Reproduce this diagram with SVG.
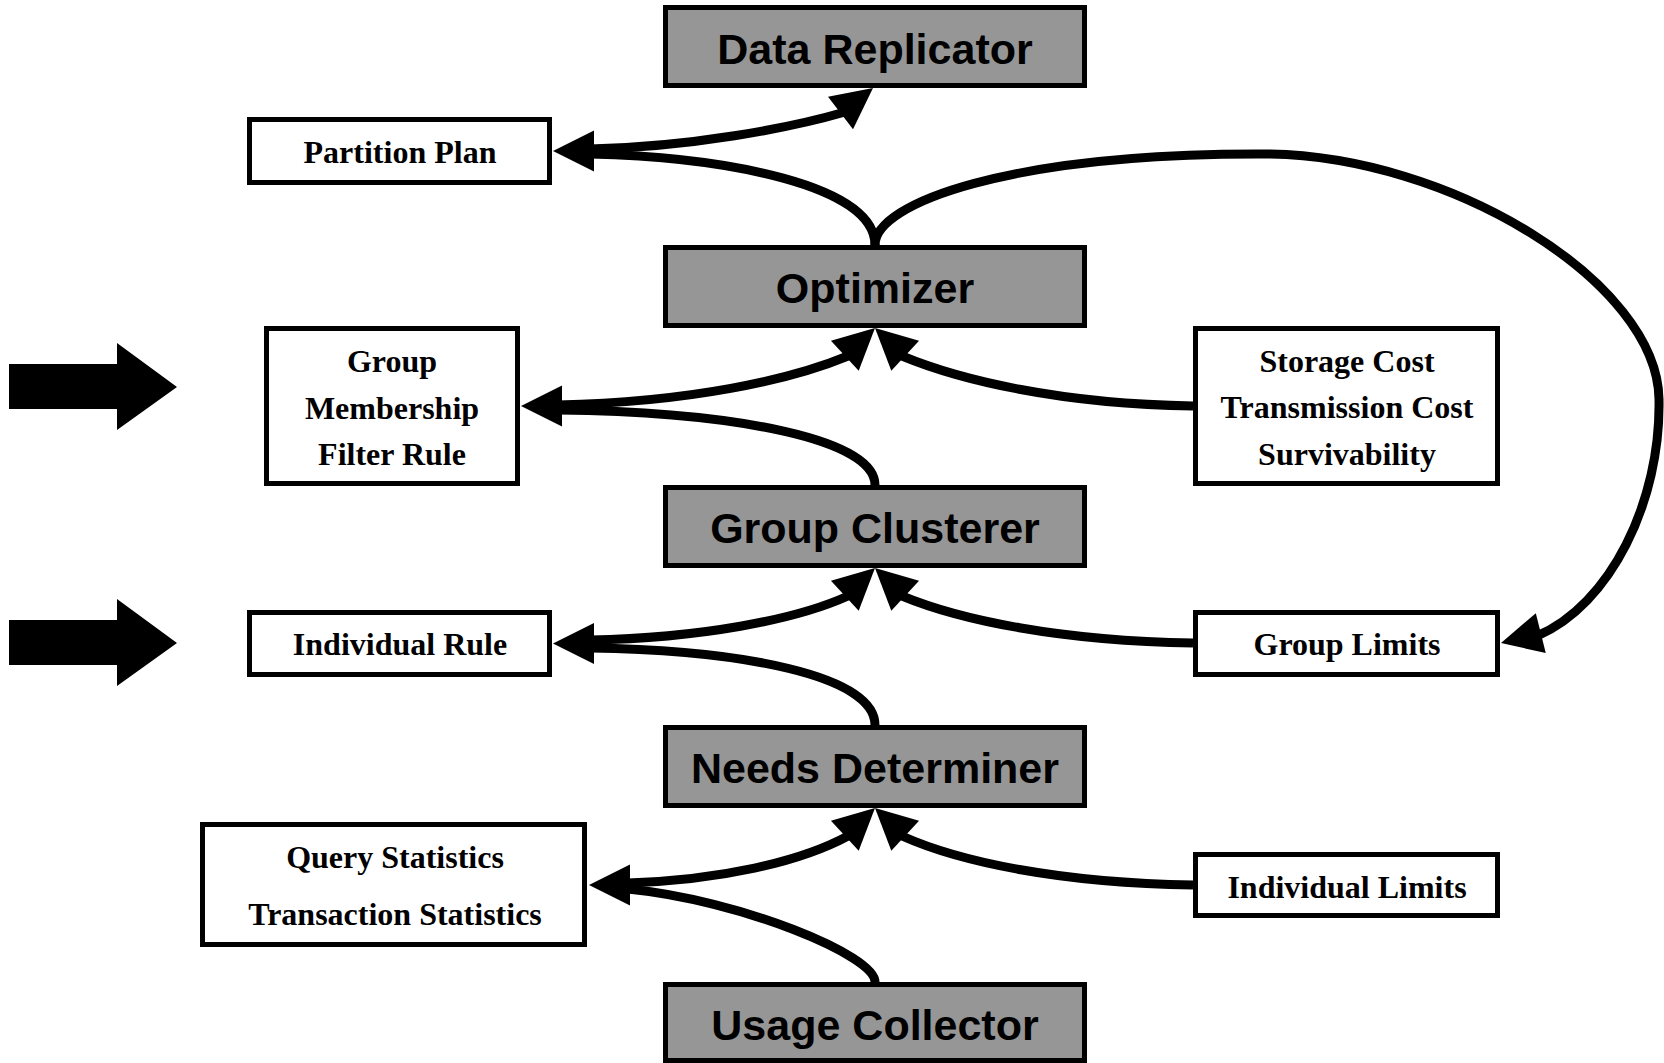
<svg xmlns="http://www.w3.org/2000/svg" xmlns:xlink="http://www.w3.org/1999/xlink" width="1664" height="1063" viewBox="0 0 1664 1063">
<style>
.dark rect{fill:#969696;stroke:#000;stroke-width:5}
.light rect{fill:#fff;stroke:#000;stroke-width:5}
.dark text{font-family:"Liberation Sans",Arial,sans-serif;font-weight:bold;font-size:43px;text-anchor:middle;fill:#000}
.light text{font-family:"Liberation Serif","Times New Roman",serif;font-weight:bold;font-size:32px;text-anchor:middle;fill:#000}
.conn path{fill:none;stroke:#000;stroke-width:9}
.ah{fill:#000}
.big{fill:#000}
</style>
<defs>
<path id="ah" d="M0,0 L-41,-20.5 L-41,20.5 Z"/>
</defs>
<rect x="0" y="0" width="1664" height="1063" fill="#fff"/>

<g id="connectors" class="conn">
<path d="M875,245 C875,185 725,157 590,154"/>
<path d="M590,149 C690,147 790,128 845,112"/>
<path d="M875,245 C875,203 1010,153 1265,154 C1450,155 1657,282 1659,399 C1661,502 1610,605 1537,636"/>
<path d="M875,485 C875,440 740,412 558,410"/>
<path d="M558,405 C690,402 790,380 848,356"/>
<path d="M1193,406 C1060,404 960,380 902,356"/>
<path d="M875,725 C875,675 740,650 590,648"/>
<path d="M590,640 C700,638 795,620 848,596"/>
<path d="M1193,643 C1060,641 960,620 902,596"/>
<path d="M875,982 C875,955 740,900 628,889"/>
<path d="M628,883 C720,880 800,862 848,836"/>
<path d="M1193,885 C1060,883 960,862 902,836"/>
<use href="#ah" class="ah" transform="translate(553,151) rotate(180)"/>
<use href="#ah" class="ah" transform="translate(873,88) rotate(-37.6)"/>
<use href="#ah" class="ah" transform="translate(875,328) rotate(-42.6)"/>
<use href="#ah" class="ah" transform="translate(875,328) rotate(-137.4)"/>
<use href="#ah" class="ah" transform="translate(521,406) rotate(180)"/>
<use href="#ah" class="ah" transform="translate(875,568) rotate(-42.6)"/>
<use href="#ah" class="ah" transform="translate(875,568) rotate(-137.4)"/>
<use href="#ah" class="ah" transform="translate(553,643.5) rotate(180)"/>
<use href="#ah" class="ah" transform="translate(1501,643) rotate(166)"/>
<use href="#ah" class="ah" transform="translate(875,808) rotate(-42.6)"/>
<use href="#ah" class="ah" transform="translate(875,808) rotate(-137.4)"/>
<use href="#ah" class="ah" transform="translate(589,885) rotate(180)"/>
</g>

<g id="big-arrow-1"><polygon class="big" points="9,364 117,364 117,343 177,387 117,430 117,409 9,409"/></g>
<g id="big-arrow-2"><polygon class="big" points="9,620 117,620 117,599 177,643 117,686 117,665 9,665"/></g>

<g id="data-replicator" class="dark"><rect x="665.5" y="7.5" width="419" height="78"/><text x="875" y="64">Data Replicator</text></g>
<g id="optimizer" class="dark"><rect x="665.5" y="247.5" width="419" height="78"/><text x="875" y="303">Optimizer</text></g>
<g id="group-clusterer" class="dark"><rect x="665.5" y="487.5" width="419" height="78"/><text x="875" y="543">Group Clusterer</text></g>
<g id="needs-determiner" class="dark"><rect x="665.5" y="727.5" width="419" height="78"/><text x="875" y="783">Needs Determiner</text></g>
<g id="usage-collector" class="dark"><rect x="665.5" y="984.5" width="419" height="76"/><text x="875" y="1040">Usage Collector</text></g>

<g id="partition-plan" class="light"><rect x="249.5" y="119.5" width="300" height="63"/><text x="400" y="163">Partition Plan</text></g>
<g id="group-membership" class="light"><rect x="266.5" y="328.5" width="251" height="155"/><text x="392" y="372">Group</text><text x="392" y="419">Membership</text><text x="392" y="465">Filter Rule</text></g>
<g id="costs" class="light"><rect x="1195.5" y="328.5" width="302" height="155"/><text x="1347" y="372">Storage Cost</text><text x="1347" y="418">Transmission Cost</text><text x="1347" y="465">Survivability</text></g>
<g id="individual-rule" class="light"><rect x="249.5" y="612.5" width="300" height="62"/><text x="400" y="655">Individual Rule</text></g>
<g id="group-limits" class="light"><rect x="1195.5" y="612.5" width="302" height="62"/><text x="1347" y="655">Group Limits</text></g>
<g id="statistics" class="light"><rect x="202.5" y="824.5" width="382" height="120"/><text x="395" y="868">Query Statistics</text><text x="395" y="925">Transaction Statistics</text></g>
<g id="individual-limits" class="light"><rect x="1195.5" y="854.5" width="302" height="61"/><text x="1347" y="898">Individual Limits</text></g>
</svg>
